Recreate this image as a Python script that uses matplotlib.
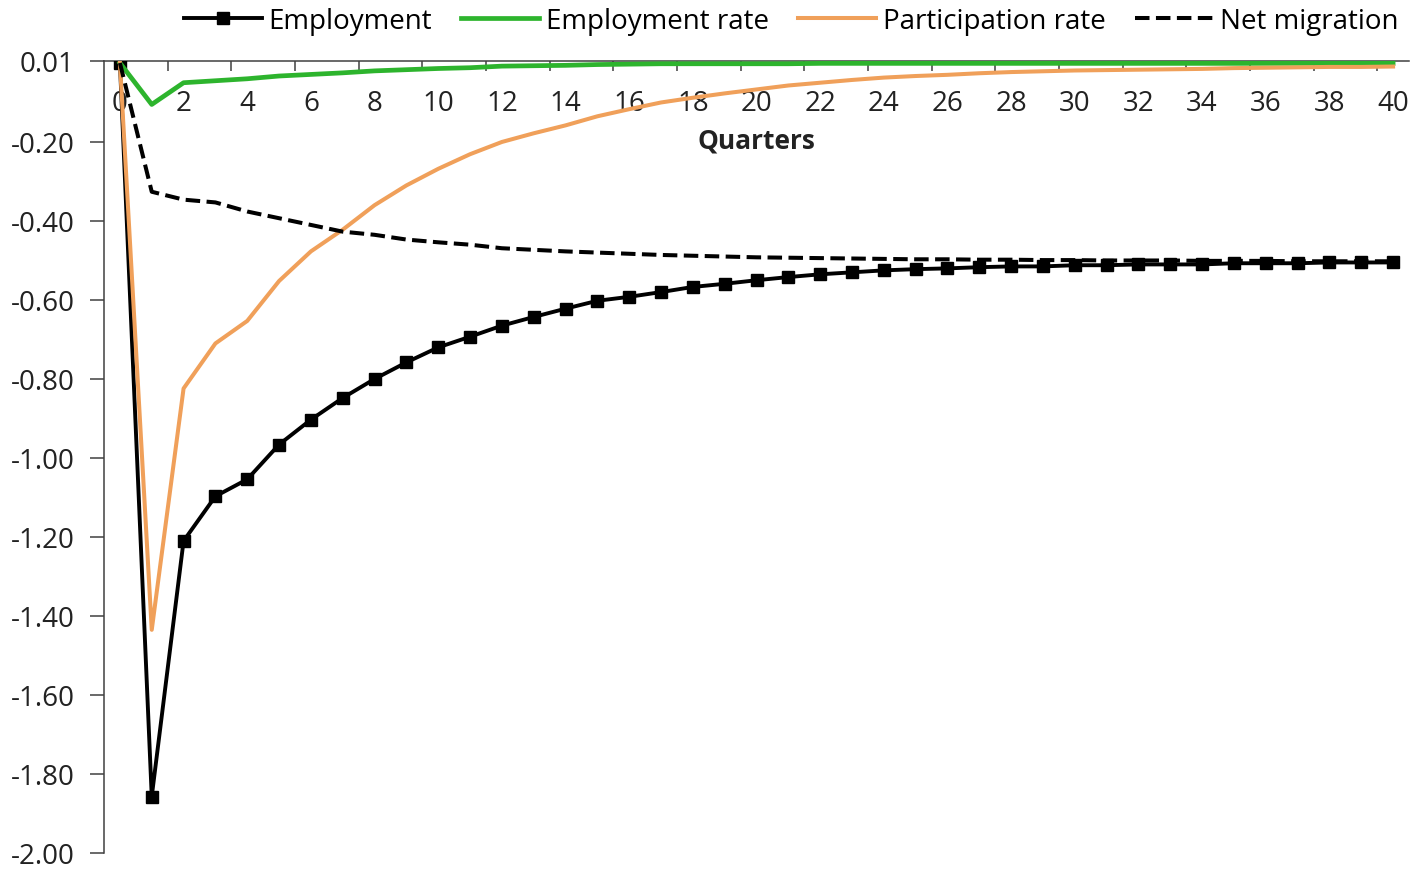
import numpy as np
import matplotlib
matplotlib.use("Agg")
import matplotlib.pyplot as plt

quarters = list(range(0, 41))

employment = [0.0, -1.857, -1.21, -1.097, -1.054, -0.966, -0.903, -0.848, -0.80, -0.758,
              -0.72, -0.693, -0.665, -0.643, -0.622, -0.602, -0.592, -0.58, -0.567, -0.559,
              -0.55, -0.542, -0.535, -0.53, -0.525, -0.522, -0.52, -0.517, -0.515, -0.515,
              -0.512, -0.512, -0.51, -0.51, -0.51, -0.507, -0.507, -0.507, -0.505, -0.505, -0.505]

employment_rate = [0.0, -0.105, -0.05, -0.045, -0.04, -0.033, -0.029, -0.025, -0.02, -0.017,
                   -0.014, -0.012, -0.008, -0.007, -0.006, -0.004, -0.003, -0.002, -0.002, -0.002,
                   -0.002, -0.002, -0.001, -0.001, -0.001, -0.001, -0.001, -0.001, -0.001, -0.001,
                   -0.001, -0.001, -0.001, -0.001, -0.001, -0.001, -0.001, -0.001, -0.001, -0.001, -0.001]

participation_rate = [0.0, -1.435, -0.824, -0.71, -0.653, -0.552, -0.477, -0.422, -0.36, -0.31,
                      -0.268, -0.231, -0.2, -0.178, -0.158, -0.135, -0.117, -0.1, -0.088, -0.077,
                      -0.067, -0.057, -0.05, -0.043, -0.037, -0.033, -0.03, -0.026, -0.023, -0.021,
                      -0.019, -0.018, -0.017, -0.016, -0.015, -0.013, -0.012, -0.011, -0.01, -0.01, -0.009]

net_migration = [0.0, -0.326, -0.346, -0.353, -0.376, -0.393, -0.41, -0.427, -0.435, -0.447,
                 -0.454, -0.46, -0.469, -0.473, -0.477, -0.48, -0.483, -0.486, -0.488, -0.49,
                 -0.492, -0.493, -0.494, -0.495, -0.496, -0.497, -0.497, -0.498, -0.498, -0.499,
                 -0.499, -0.5, -0.5, -0.5, -0.501, -0.501, -0.501, -0.502, -0.502, -0.502, -0.502]

x_tick_labels = [str(v) for v in range(0, 41, 2)]
y_ticks = [-2.0, -1.8, -1.6, -1.4, -1.2, -1.0, -0.8, -0.6, -0.4, -0.2, 0.005]

plt.rcParams['font.family'] = ['Open Sans', 'DejaVu Sans']
FS = 20

fig = plt.figure(figsize=(14.14, 8.70), dpi=100)
ax = fig.add_axes([104/1414, 16/870, (1409-104)/1414, (854-62)/870])

ax.plot(quarters, employment, color='black', lw=2.8, marker='s', markersize=9,
        label='Employment', zorder=3)
ax.plot(quarters, employment_rate, color='#2DB42D', lw=3.4, label='Employment rate', zorder=4)
ax.plot(quarters, participation_rate, color='#F0A05A', lw=2.9, label='Participation rate', zorder=4)
ax.plot(quarters, net_migration, color='black', lw=2.9, dashes=(3.6, 1.6),
        label='Net migration', zorder=5)

ax.set_xlim(-0.5, 40.5)
ax.set_ylim(-2.0, 0.005)

for s in ['top', 'right']:
    ax.spines[s].set_visible(False)
ax.spines['bottom'].set_position(('axes', 1.0))
ax.spines['bottom'].set_color('#404040')
ax.spines['left'].set_color('#404040')
ax.spines['bottom'].set_linewidth(1.1)
ax.spines['left'].set_linewidth(1.1)

ax.set_xticks(np.arange(0, 41, 2))
ax.set_xticklabels(x_tick_labels)
ax.set_xticks(np.arange(1.5, 40, 2), minor=True)
ax.tick_params(axis='x', which='major', length=0, pad=20, labelsize=FS, colors='#222222')
ax.tick_params(axis='x', which='minor', length=7, width=1.1, direction='out', color='#404040')

ax.set_yticks(y_ticks)
ax.set_yticklabels(['%.2f' % v for v in y_ticks])
ax.tick_params(axis='y', which='major', length=10, width=1.1, direction='out',
               pad=11, labelsize=FS, color='#404040', labelcolor='#222222')

ax.set_xlabel('Quarters', fontsize=19, fontweight='bold', labelpad=7, color='#222222')

fig.legend(loc='center', bbox_to_anchor=(791/1414, 1 - 22/870), ncol=4, frameon=False,
           fontsize=FS, handlelength=2.8, handletextpad=0.25, columnspacing=1.05)

fig.savefig('out.png', dpi=100)
